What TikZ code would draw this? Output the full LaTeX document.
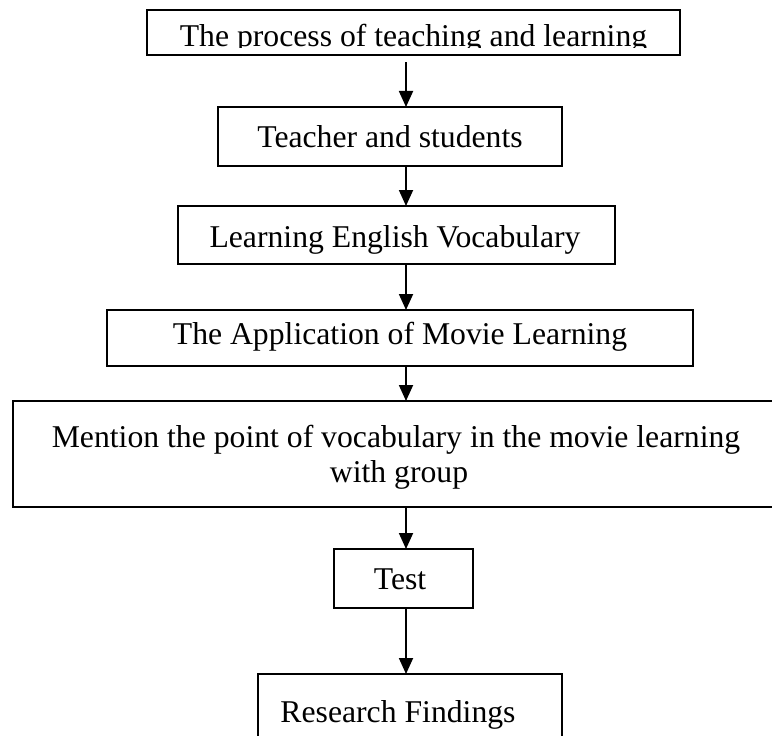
\documentclass[tikz,border=0pt]{standalone}
\usepackage{fontspec}
\setmainfont{Liberation Serif}
\usetikzlibrary{arrows.meta}

\tikzset{
  box/.style={draw, line width=1.8bp, rectangle, inner sep=0pt, outer sep=0pt},
  txt/.style={inner sep=0pt, anchor=base, font=\fontsize{31.7bp}{38bp}\selectfont},
  flow/.style={line width=1.8bp, -{Triangle[length=16bp,width=14bp]}}
}

\begin{document}
\begin{tikzpicture}[x=1bp, y=-1bp]
  % page frame
  \useasboundingbox (0,0) rectangle (772,736);
  \clip (0,0) rectangle (772,736);

  % boxes
  \node[box, minimum width=533bp, minimum height=45bp] (b1) at (413.5,32.5) {};
  \node[box, minimum width=344bp, minimum height=59bp] (b2) at (390,136.5) {};
  \node[box, minimum width=437bp, minimum height=58bp] (b3) at (396.5,235) {};
  \node[box, minimum width=586bp, minimum height=56bp] (b4) at (400,338) {};
  \node[box, minimum width=777bp, minimum height=106bp] (b5) at (401.5,454) {};
  \node[box, minimum width=139bp, minimum height=59bp] (b6) at (403.5,578.5) {};
  \node[box, minimum width=304bp, minimum height=86bp] (b7) at (410,717) {};

  % first caption is cut off just below its baseline
  \begin{scope}
    \clip (147,10) rectangle (680,47.5);
    \node[txt] (t1) at (413.5,47) {The process of teaching and learning};
  \end{scope}
  \node[txt] (t2) at (390,147) {Teacher and students};
  \node[txt] (t3) at (395,247) {Learning English Vocabulary};
  \node[txt] (t4) at (400,344) {The Application of Movie Learning};
  \node[txt] (t5a) at (396,447) {Mention the point of vocabulary in the movie learning};
  \node[txt] (t5b) at (399,482) {with group};
  \node[txt] (t6) at (400,589) {Test};
  \node[txt] (t7) at (398,722) {Research Findings};

  % flow arrows
  \coordinate (ax) at (406,0);
  \draw[flow, shorten <=7bp] (b1.south -| ax) -- (b2.north -| ax);
  \draw[flow] (b2.south -| ax) -- (b3.north -| ax);
  \draw[flow] (b3.south -| ax) -- (b4.north -| ax);
  \draw[flow] (b4.south -| ax) -- (b5.north -| ax);
  \draw[flow] (b5.south -| ax) -- (b6.north -| ax);
  \draw[flow] (b6.south -| ax) -- (b7.north -| ax);
\end{tikzpicture}
\end{document}
